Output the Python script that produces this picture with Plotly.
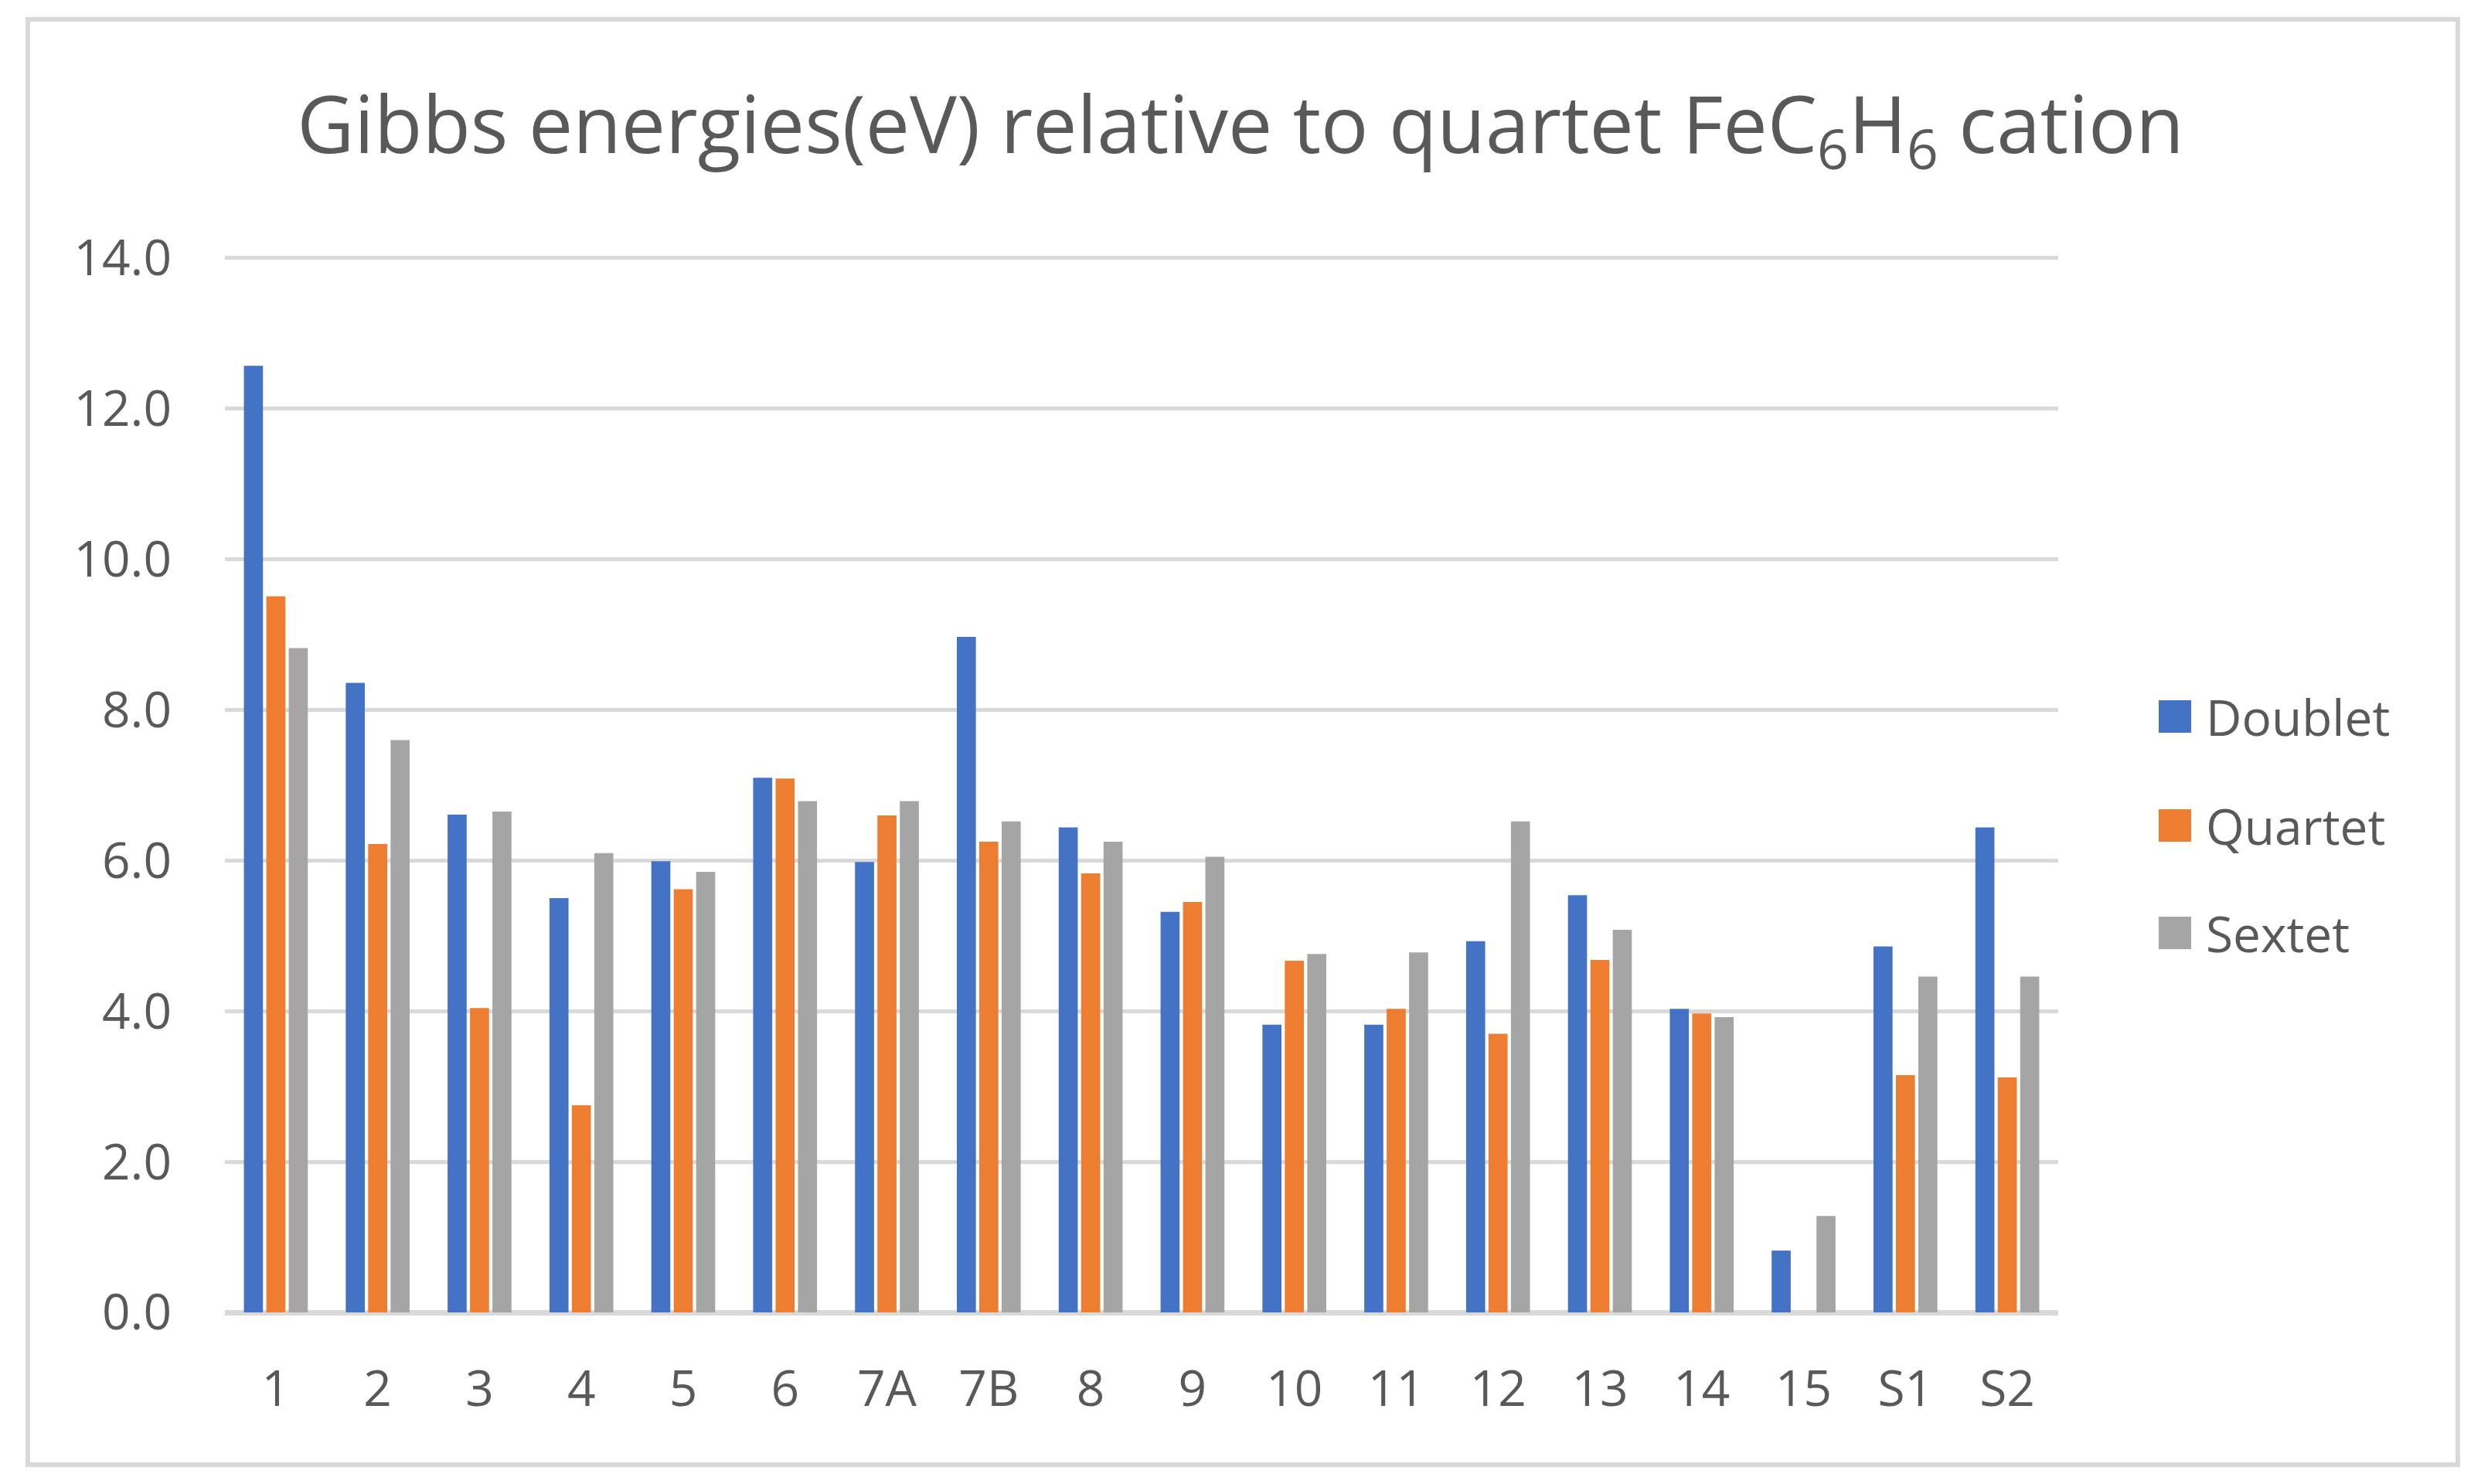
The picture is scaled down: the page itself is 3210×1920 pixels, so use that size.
import plotly.graph_objects as go

categories = ["1", "2", "3", "4", "5", "6", "7A", "7B", "8", "9", "10", "11", "12", "13", "14", "15", "S1", "S2"]
doublet = [12.57, 8.36, 6.61, 5.50, 5.99, 7.10, 5.98, 8.97, 6.44, 5.32, 3.82, 3.82, 4.93, 5.54, 4.03, 0.82, 4.86, 6.44]
quartet = [9.51, 6.22, 4.04, 2.75, 5.62, 7.09, 6.60, 6.25, 5.83, 5.45, 4.67, 4.03, 3.70, 4.68, 3.97, None, 3.15, 3.12]
sextet = [8.82, 7.60, 6.65, 6.10, 5.85, 6.79, 6.79, 6.52, 6.25, 6.05, 4.76, 4.78, 6.52, 5.08, 3.92, 1.28, 4.46, 4.46]
series_names = ["Doublet", "Quartet", "Sextet"]
series_colors = ["#4472C4", "#ED7D31", "#A5A5A5"]
y_ticks = [0, 2, 4, 6, 8, 10, 12, 14]
title_text = "Gibbs energies(eV) relative to quartet FeC<sub>6</sub>H<sub>6</sub> cation"

OFF = 8  # page body margin offset
W, H = 3210, 1920
Y_MAX = 14.04
UNIT = 1364 / 14.0
L = 291 - OFF
B = 222 + OFF
PHT = int(round(Y_MAX * UNIT))
T = H - B - PHT
PWD = 2372
R = W - L - PWD
TXT = "#595959"
GRID = "#D9D9D9"
FONT = "Open Sans"
FS = 64


def px(x):
    return (x - OFF - L) / PWD


def py(y):
    return (H - B - (y - OFF)) / PHT


fig = go.Figure()
for name, vals, col in zip(series_names, [doublet, quartet, sextet], series_colors):
    fig.add_trace(go.Bar(x=categories, y=vals, name=name, marker_color=col,
                         marker_line_width=0, showlegend=False))

shapes = []
annotations = []
# outer chart border
shapes.append(dict(type="rect", xref="paper", yref="paper",
                   x0=px(36), x1=px(3180), y0=py(25), y1=py(1895),
                   line=dict(color=GRID, width=6), fillcolor="rgba(0,0,0,0)", layer="below"))
# manual legend
leg_y = [927, 1068, 1207]
for name, col, yc in zip(series_names, series_colors, leg_y):
    shapes.append(dict(type="rect", xref="paper", yref="paper",
                       x0=px(2793), x1=px(2835), y0=py(yc - 21), y1=py(yc + 21),
                       line=dict(width=0), fillcolor=col))
    annotations.append(dict(text=name, xref="paper", yref="paper", x=px(2852), y=py(yc),
                            xanchor="left", yanchor="middle", showarrow=False,
                            font=dict(family=FONT, size=FS, color=TXT)))

fig.update_layout(
    width=W, height=H,
    margin=dict(l=L, r=R, t=T, b=B, pad=0),
    paper_bgcolor="white", plot_bgcolor="white",
    barmode="group", bargap=0.34, bargroupgap=0.15,
    title=dict(text=title_text, x=0.5 - OFF / W, xanchor="center", xref="container",
               y=1 - (162 - OFF) / H, yanchor="middle", yref="container",
               font=dict(family=FONT, size=102, color=TXT)),
    font=dict(family=FONT, size=FS, color=TXT),
    shapes=shapes, annotations=annotations,
    showlegend=False,
)
fig.update_xaxes(type="category", showgrid=False, showline=False, zeroline=False,
                 ticks="", ticklabelstandoff=56,
                 tickfont=dict(family=FONT, size=FS, color=TXT))
fig.update_yaxes(range=[0, Y_MAX], tickvals=y_ticks, tickformat=".1f",
                 showgrid=True, gridcolor=GRID, gridwidth=5,
                 zeroline=True, zerolinecolor=GRID, zerolinewidth=7,
                 showline=False, ticks="", ticklabelstandoff=68,
                 tickfont=dict(family=FONT, size=FS, color=TXT))

fig.write_html("out.html")
